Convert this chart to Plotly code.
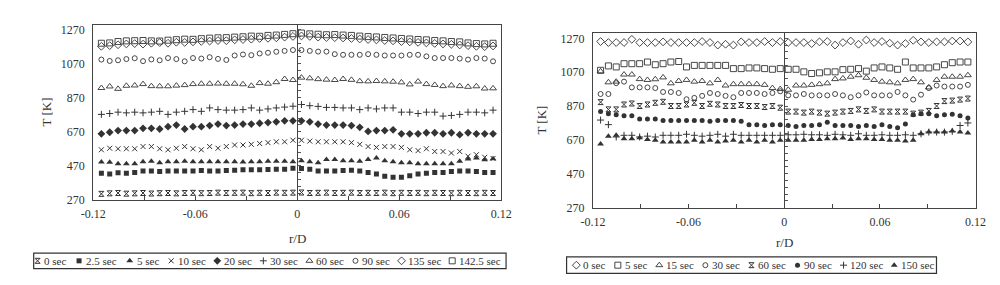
import plotly.graph_objects as go

# ---------------- data ----------------
r_d = [-0.1152, -0.1103, -0.1054, -0.1005, -0.0956, -0.0907, -0.0858, -0.0809,
       -0.0760, -0.0711, -0.0662, -0.0613, -0.0564, -0.0515, -0.0466, -0.0417,
       -0.0368, -0.0319, -0.0270, -0.0221, -0.0172, -0.0123, -0.0074, -0.0025,
       0.0025, 0.0074, 0.0123, 0.0172, 0.0221, 0.0270, 0.0319, 0.0368,
       0.0417, 0.0466, 0.0515, 0.0564, 0.0613, 0.0662, 0.0711, 0.0760,
       0.0809, 0.0858, 0.0907, 0.0956, 0.1005, 0.1054, 0.1103, 0.1152]

x_ticks = [-0.12, -0.06, 0, 0.06, 0.12]
x_ticktext = ["-0.12", "-0.06", "0", "0.06", "0.12"]
x_minor = [-0.09, -0.03, 0.03, 0.09]
y_ticks = [270, 470, 670, 870, 1070, 1270]

# left panel
L_t0 = [305, 308, 310, 306, 308, 310, 307, 309, 310, 308, 310, 311, 309, 310, 312, 310,
        311, 312, 309, 311, 310, 312, 311, 312, 313, 310, 311, 312, 310, 311, 312, 310,
        311, 310, 312, 309, 311, 310, 311, 309, 311, 310, 309, 311, 310, 309, 311, 310]
L_t2_5 = [426, 422, 429, 426, 431, 440, 440, 437, 440, 440, 440, 440, 442, 440, 440, 442,
          444, 446, 446, 446, 448, 450, 450, 456, 454, 450, 440, 440, 440, 442, 444, 440,
          431, 422, 409, 403, 403, 412, 422, 426, 431, 431, 437, 440, 440, 437, 431, 431]
L_t5 = [492, 490, 482, 482, 482, 494, 497, 488, 494, 494, 497, 494, 494, 494, 494, 494,
        494, 492, 494, 494, 497, 497, 497, 494, 500, 494, 488, 507, 507, 500, 500, 497,
        507, 516, 500, 494, 488, 488, 482, 482, 482, 482, 482, 497, 510, 516, 505, 512]
L_t10 = [564, 573, 570, 570, 570, 583, 583, 570, 564, 573, 583, 570, 564, 583, 573, 583,
         592, 592, 596, 601, 606, 611, 611, 620, 620, 615, 611, 611, 611, 611, 606, 596,
         583, 578, 583, 583, 578, 564, 559, 570, 554, 554, 545, 554, 526, 535, 520, 513]
L_t20 = [658, 667, 677, 677, 677, 690, 690, 686, 700, 709, 686, 700, 700, 706, 715, 706,
         709, 715, 715, 720, 724, 728, 734, 734, 734, 728, 715, 709, 709, 709, 706, 696,
         672, 677, 677, 681, 658, 658, 658, 664, 664, 658, 664, 653, 664, 658, 658, 658]
L_t30 = [772, 777, 785, 781, 785, 781, 785, 790, 772, 785, 790, 800, 790, 810, 800, 797,
         797, 800, 810, 797, 804, 810, 815, 820, 830, 823, 819, 813, 813, 810, 810, 800,
         810, 804, 810, 810, 785, 785, 777, 785, 785, 762, 766, 772, 785, 785, 781, 797]
L_t60 = [927, 936, 922, 940, 942, 950, 938, 937, 937, 941, 944, 950, 952, 952, 953, 952,
         952, 949, 940, 956, 952, 961, 980, 974, 988, 984, 979, 976, 974, 980, 975, 967,
         966, 968, 966, 964, 960, 948, 965, 950, 945, 938, 942, 938, 934, 937, 924, 925]
L_t90 = [1094, 1086, 1090, 1097, 1102, 1085, 1095, 1090, 1103, 1097, 1084, 1103, 1100, 1108, 1098, 1092,
         1118, 1124, 1120, 1130, 1134, 1140, 1145, 1150, 1150, 1145, 1141, 1141, 1126, 1122, 1122, 1122,
         1126, 1122, 1118, 1118, 1118, 1122, 1122, 1113, 1103, 1103, 1103, 1100, 1094, 1103, 1100, 1084]
L_t135 = [1172, 1176, 1181, 1186, 1188, 1185, 1190, 1194, 1190, 1196, 1195, 1198, 1201, 1203, 1206, 1205,
          1210, 1212, 1214, 1218, 1219, 1222, 1226, 1230, 1233, 1230, 1226, 1224, 1223, 1221, 1218, 1215,
          1212, 1210, 1206, 1204, 1200, 1198, 1195, 1192, 1189, 1186, 1184, 1180, 1176, 1172, 1170, 1174]
L_t142_5 = [1190, 1192, 1200, 1204, 1205, 1206, 1204, 1203, 1208, 1211, 1214, 1213, 1217, 1220, 1222, 1223,
            1226, 1228, 1232, 1231, 1236, 1238, 1242, 1246, 1250, 1245, 1243, 1240, 1241, 1238, 1236, 1232,
            1229, 1227, 1224, 1221, 1218, 1215, 1212, 1210, 1206, 1204, 1200, 1198, 1192, 1188, 1186, 1190]

L_labels = ["0 sec", "2.5 sec", "5 sec", "10 sec", "20 sec", "30 sec",
            "60 sec", "90 sec", "135 sec", "142.5 sec"]
L_values = [L_t0, L_t2_5, L_t5, L_t10, L_t20, L_t30, L_t60, L_t90, L_t135, L_t142_5]

# right panel
R_t0 = [1251, 1245, 1245, 1245, 1264, 1245, 1245, 1245, 1249, 1245, 1245, 1245, 1245, 1251, 1245, 1230,
        1235, 1230, 1249, 1245, 1245, 1251, 1245, 1251, 1245, 1245, 1245, 1239, 1249, 1251, 1230, 1245,
        1254, 1235, 1260, 1245, 1251, 1241, 1230, 1239, 1258, 1249, 1245, 1249, 1249, 1254, 1254, 1249]
R_t5 = [1081, 1107, 1101, 1120, 1120, 1120, 1130, 1114, 1120, 1130, 1133, 1101, 1110, 1110, 1110, 1110,
        1110, 1091, 1091, 1095, 1095, 1091, 1087, 1091, 1087, 1087, 1072, 1062, 1066, 1072, 1072, 1085,
        1087, 1091, 1076, 1095, 1101, 1095, 1087, 1130, 1095, 1095, 1095, 1101, 1114, 1126, 1130, 1130]
R_t15 = [1075, 1010, 1014, 1056, 1056, 1029, 1024, 1028, 1039, 1004, 1018, 1024, 1014, 1018, 1004, 1024,
         991, 999, 999, 999, 999, 995, 976, 970, 966, 991, 991, 995, 999, 1004, 1029, 1033,
         1043, 1052, 1037, 1024, 1014, 1010, 1004, 1024, 1029, 1010, 980, 1024, 1043, 1043, 1043, 1052]
R_t30 = [941, 941, 1005, 1014, 980, 980, 980, 976, 953, 953, 947, 910, 918, 930, 947, 941,
         930, 922, 947, 947, 947, 941, 947, 957, 933, 933, 941, 933, 933, 933, 941, 933,
         922, 933, 950, 933, 933, 933, 953, 933, 908, 937, 976, 991, 985, 985, 985, 995]
R_t60 = [893, 850, 850, 879, 885, 870, 879, 889, 895, 870, 870, 879, 889, 870, 883, 879,
         870, 870, 876, 870, 870, 864, 870, 860, 837, 837, 831, 837, 831, 825, 831, 837,
         841, 850, 841, 850, 837, 837, 837, 837, 825, 831, 841, 870, 899, 902, 908, 914]
R_t90 = [837, 825, 818, 812, 812, 793, 793, 793, 784, 784, 784, 784, 784, 784, 780, 784,
         784, 784, 780, 760, 760, 755, 760, 760, 755, 749, 755, 755, 760, 774, 755, 755,
         755, 749, 755, 749, 760, 749, 741, 764, 818, 825, 825, 812, 818, 822, 812, 799]
R_t120 = [787, 760, 687, 697, 697, 687, 692, 687, 697, 697, 697, 703, 697, 692, 697, 703,
          692, 703, 697, 697, 697, 697, 697, 697, 700, 700, 703, 700, 700, 697, 703, 700,
          697, 706, 697, 697, 700, 697, 697, 700, 697, 706, 716, 716, 716, 720, 755, 770]
R_t150 = [645, 691, 697, 677, 677, 683, 672, 668, 658, 658, 658, 658, 668, 658, 668, 658,
          664, 668, 658, 668, 658, 668, 658, 668, 668, 668, 668, 672, 672, 677, 677, 681,
          672, 677, 677, 672, 672, 668, 668, 664, 668, 706, 716, 716, 716, 722, 716, 710]

R_labels = ["0 sec", "5 sec", "15 sec", "30 sec", "60 sec", "90 sec", "120 sec", "150 sec"]
R_values = [R_t0, R_t5, R_t15, R_t30, R_t60, R_t90, R_t120, R_t150]

# ---------------- styles ----------------
W, H = 1000, 285
INK = "#333333"
FONT = "Liberation Serif"

# (symbol, size, line width)
L_styles = [("hourglass-open", 5, 1.0), ("square", 5, 0), ("triangle-up", 6, 0),
            ("x-thin-open", 5, 1.0), ("diamond", 6, 0), ("cross-thin-open", 5, 1.0),
            ("triangle-up-open", 6, 0.9), ("circle-open", 5, 0.9),
            ("diamond-open", 6, 0.9), ("square-open", 6, 0.9)]
R_styles = [("diamond-open", 6, 0.9), ("square-open", 6, 0.9), ("triangle-up-open", 6, 0.9),
            ("circle-open", 5, 0.9), ("hourglass-open", 5, 1.0), ("circle", 5, 0),
            ("cross-thin-open", 5, 1.0), ("triangle-up", 6, 0)]


def fx(p):
    return p / W


def fy(p):
    return 1 - p / H


panels = [
    dict(xa="x", ya="y", xk="xaxis", yk="yaxis", ck="yaxis3", cref="y3",
         dom_x=(74, 492), dom_y=(15, 196), labels=L_labels, values=L_values, styles=L_styles,
         box=(13, 497, 251, 267), first=17, ylab_x=26, xlab_y=236),
    dict(xa="x2", ya="y2", xk="xaxis2", yk="yaxis2", ck="yaxis4", cref="y4",
         dom_x=(586, 978), dom_y=(24, 204), labels=R_labels, values=R_values, styles=R_styles,
         box=(559, 938, 255, 272), first=569, ylab_x=533, xlab_y=240),
]

fig = go.Figure()
layout = dict(width=W, height=H, margin=dict(l=0, r=0, t=0, b=0),
              paper_bgcolor="white", plot_bgcolor="rgba(0,0,0,0)",
              showlegend=False, font=dict(family=FONT, size=12, color=INK))
annotations = []
shapes = []

# helper pixel axes for the hand-made legends
layout["xaxis5"] = dict(domain=[0, 1], range=[0, W], visible=False, fixedrange=True)
layout["yaxis5"] = dict(domain=[0, 1], range=[H, 0], visible=False, fixedrange=True, anchor="x5")

for p in panels:
    for lab, vals, (sym, size, lw) in zip(p["labels"], p["values"], p["styles"]):
        fig.add_trace(go.Scatter(
            x=r_d, y=vals, mode="markers", name=lab, xaxis=p["xa"], yaxis=p["ya"],
            marker=dict(symbol=sym, size=size, color=INK, line=dict(width=lw, color=INK)),
        ))
    xd = [fx(p["dom_x"][0]), fx(p["dom_x"][1])]
    yd = [fy(p["dom_y"][1]), fy(p["dom_y"][0])]
    layout[p["xk"]] = dict(domain=xd, range=[-0.12, 0.12], anchor=p["ya"],
                           tickvals=x_ticks, ticktext=x_ticktext, ticks="inside", ticklen=4,
                           tickcolor="#444", minor=dict(tickvals=x_minor, ticks="inside", ticklen=4,
                                                        tickcolor="#444"),
                           ticklabelstandoff=3,
                           showline=True, mirror=True, linecolor="#444", linewidth=1,
                           showgrid=False, zeroline=False,
                           tickfont=dict(family=FONT, size=12, color=INK))
    layout[p["yk"]] = dict(domain=yd, range=[270, 1300], anchor=p["xa"],
                           tickvals=y_ticks, ticks="", showline=True, mirror=True,
                           ticklabelstandoff=5,
                           linecolor="#444", linewidth=1, showgrid=False, zeroline=False,
                           tickfont=dict(family=FONT, size=12, color=INK))
    # vertical axis line through r/D = 0 with small ticks
    center = (xd[0] + xd[1]) / 2
    layout[p["ck"]] = dict(overlaying=p["ya"], anchor="free", position=center,
                           range=[270, 1300], showline=True, linecolor="#444", linewidth=1,
                           ticks="inside", ticklen=3, tickcolor="#555", tick0=270, dtick=40,
                           showticklabels=False, showgrid=False, zeroline=False)
    fig.add_trace(go.Scatter(x=[0], y=[None], mode="markers", xaxis=p["xa"], yaxis=p["cref"],
                             hoverinfo="skip", showlegend=False))
    # axis titles
    annotations.append(dict(text="T [K]", x=fx(p["ylab_x"]), y=(yd[0] + yd[1]) / 2,
                            xref="paper", yref="paper", xanchor="center", yanchor="middle",
                            showarrow=False, textangle=-90,
                            font=dict(family=FONT, size=13, color=INK)))
    annotations.append(dict(text="r/D", x=center, y=fy(p["xlab_y"]), xref="paper", yref="paper",
                            xanchor="center", yanchor="middle",
                            showarrow=False, font=dict(family=FONT, size=13, color=INK)))
    # legend box
    x0, x1, y0, y1 = p["box"]
    shapes.append(dict(type="rect", xref="paper", yref="paper", x0=fx(x0), x1=fx(x1),
                       y0=fy(y1), y1=fy(y0), line=dict(color="#333", width=1.2)))
    ymid = (y0 + y1) / 2
    cx = p["first"]
    sx, syms, sizes, lws = [], [], [], []
    for lab, (sym, size, lw) in zip(p["labels"], p["styles"]):
        sx.append(cx)
        syms.append(sym)
        sizes.append(size)
        lws.append(lw)
        annotations.append(dict(text=lab, x=fx(cx + 5), y=fy(ymid), xref="paper", yref="paper",
                                xanchor="left", yanchor="middle", showarrow=False,
                                font=dict(family=FONT, size=11, color=INK)))
        cx += 19 + 4.7 * len(lab)
    for xx, sym, size, lw in zip(sx, syms, sizes, lws):
        fig.add_trace(go.Scatter(x=[xx], y=[ymid], mode="markers", xaxis="x5", yaxis="y5",
                                 hoverinfo="skip", showlegend=False,
                                 marker=dict(symbol=sym, size=size, color=INK,
                                             line=dict(width=lw, color=INK))))

layout["annotations"] = annotations
layout["shapes"] = shapes
fig.update_layout(**layout)
fig.write_html("out.html")
